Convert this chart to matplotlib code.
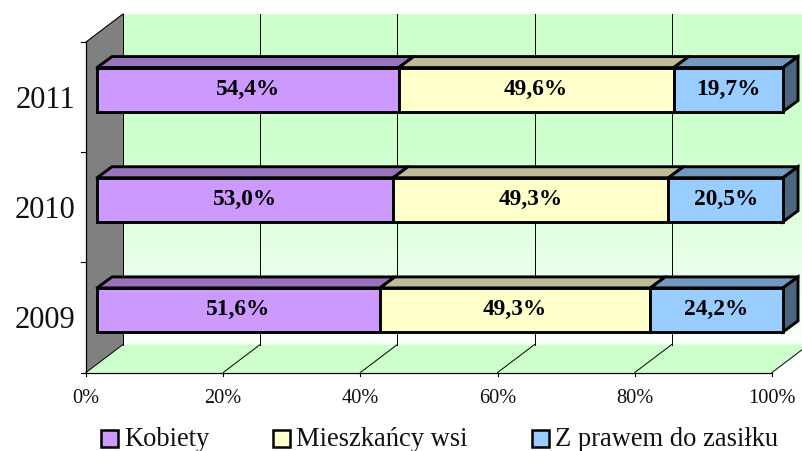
import numpy as np
import matplotlib
matplotlib.use("Agg")
import matplotlib.pyplot as plt
from matplotlib.colors import LinearSegmentedColormap
from matplotlib.patches import Polygon, Rectangle

plt.rcParams['font.family'] = ['Liberation Serif', 'DejaVu Serif']

years = ['2009', '2010', '2011']
series_names = ['Kobiety', 'Mieszka\u0144cy wsi', 'Z prawem do zasi\u0142ku']
kobiety = [51.6, 53.0, 54.4]
wies = [49.3, 49.3, 49.6]
zasilek = [24.2, 20.5, 19.7]
xticks = [0, 20, 40, 60, 80, 100]

front_cols = ['#CC99FF', '#FFFFCC', '#99CCFF']
top_cols = ['#9973BB', '#BFBC99', '#7399BF']
side_col = '#4D667F'

W, H = 802, 452
fig = plt.figure(figsize=(W / 100, H / 100), dpi=100)
# axes = front plane of the 3d box, in pixels
L, R, T, B = 86, 772, 43, 373.5
ax = fig.add_axes([L / W, 1 - B / H, (R - L) / W, (B - T) / H])
ax.set_xlim(0, 100)
ax.set_ylim(0, 3)
ax.axis('off')

px = 100 / (R - L)
py = 3 / (B - T)
# depth of box and bars, pixels -> data
dx, dy = 37 * px, 28 * py
bar_dx, bar_dy = 11 * px, 7.5 * py
bar_depth_x, bar_depth_y = 15 * px, 11 * py
bar_h = 44 * py

# back wall gradient
cm = LinearSegmentedColormap.from_list('wall', [(0, '#CCFFCC'), (0.38, '#CCFFCC'), (1, '#FBFFFB')])
grad = np.linspace(0, 1, 256).reshape(-1, 1)
ax.imshow(grad, cmap=cm, aspect='auto', extent=(dx, 100 + dx, dy, 3 + dy), origin='upper',
          clip_on=False, zorder=0)
ax.set_xlim(0, 100)
ax.set_ylim(0, 3)

# floor and left wall
ax.add_patch(Polygon([(0, 0), (100, 0), (100 + dx, dy), (dx, dy)], fc='#CCFFCC', ec='none', zorder=1, clip_on=False))
ax.add_patch(Polygon([(0, 0), (0, 3), (dx, 3 + dy), (dx, dy)], fc='#808080', ec='none', zorder=2, clip_on=False))
ax.plot([0, dx], [3, 3 + dy], color='k', lw=0.8, zorder=3, clip_on=False)
ax.plot([dx, dx], [dy, 3 + dy], color='#333333', lw=0.6, zorder=3, clip_on=False)

for t in xticks:
    ax.plot([t + dx, t + dx], [dy, 3 + dy], color='k', lw=0.7, zorder=3, clip_on=False)
    ax.plot([t, t + dx], [0, dy], color='k', lw=0.7, zorder=3, clip_on=False)
    ax.plot([t, t], [0, -3.5 * py], color='k', lw=0.8, zorder=3, clip_on=False)
    ax.text(t, -15.5 * py, f'{t}%', ha='center', va='top', fontsize=14.7, color='#111111')

# axis lines and category ticks
ax.plot([0, 100], [0, 0], color='k', lw=0.9, zorder=4, clip_on=False)
ax.plot([0, 0], [0, 3], color='k', lw=0.9, zorder=4, clip_on=False)
for i in range(4):
    ax.plot([-5.5 * px, 0], [i, i], color='k', lw=0.8, zorder=4, clip_on=False)

# stacked bars, scaled to 100%
values = np.array([kobiety, wies, zasilek])
shares = values / values.sum(axis=0) * 100
lw = 2.1
for i, year in enumerate(years):
    yc = i + 0.5 + bar_dy
    y0, y1 = yc - bar_h / 2, yc + bar_h / 2
    left = 0
    for j in range(3):
        w = shares[j, i]
        x0 = left + bar_dx
        x1 = x0 + w
        ax.add_patch(Polygon([(x0, y1), (x1, y1), (x1 + bar_depth_x, y1 + bar_depth_y), (x0 + bar_depth_x, y1 + bar_depth_y)],
                             fc=top_cols[j], ec='k', lw=lw, joinstyle='round', zorder=5 + j * 0.1, clip_on=False))
        if j == 2:
            ax.add_patch(Polygon([(x1, y0), (x1, y1), (x1 + bar_depth_x, y1 + bar_depth_y), (x1 + bar_depth_x, y0 + bar_depth_y)],
                                 fc=side_col, ec='k', lw=lw, zorder=5.5, clip_on=False))
        ax.barh(yc, w, left=x0, height=bar_h, color=front_cols[j], edgecolor='k', linewidth=lw, zorder=6, clip_on=False)
        ax.text(x0 + w / 2, yc + 1 * py, f'{values[j, i]:.1f}%'.replace('.', ','), ha='center', va='center',
                fontsize=16.8, fontweight='bold', color='k', zorder=7)
        left += w
    ax.text(-11 * px, i + 0.5 - 2.5 * py, year, ha='right', va='center', fontsize=22, color='#111111')
ax.set_xlim(0, 100)
ax.set_ylim(0, 3)

# legend
swatch_x = [101, 273, 532]
for name, col, sx in zip(series_names, front_cols, swatch_x):
    fig.add_artist(Rectangle((sx / W, 1 - 448 / H), 17 / W, 17 / H, transform=fig.transFigure,
                             fc=col, ec='k', lw=1.8))
    fig.text((sx + 23) / W, 1 - 446.5 / H, name, ha='left', va='baseline', fontsize=19.1, color='#111111')

fig.savefig('out.png', dpi=100)
